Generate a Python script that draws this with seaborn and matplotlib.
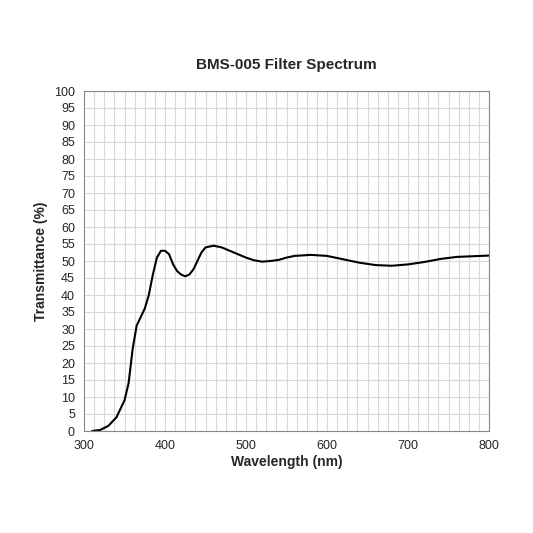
import numpy as np
import pandas as pd
import matplotlib
matplotlib.use('Agg')
import matplotlib.pyplot as plt
import seaborn as sns
from matplotlib.ticker import MultipleLocator

wavelength = [310, 320, 330, 340, 350, 355, 360, 365, 370, 375, 380, 385, 390, 395,
              400, 405, 410, 415, 420, 425, 430, 435, 440, 445, 450, 460, 470, 480,
              490, 500, 510, 520, 530, 540, 550, 560, 580, 600, 620, 640, 660, 680,
              700, 720, 740, 760, 780, 800]
transmittance = [0.0, 0.3, 1.5, 4.0, 9.0, 14.0, 24.0, 31.0, 33.5, 36.0, 40.0, 46.0, 51.0, 53.0,
                 53.0, 52.0, 49.0, 47.0, 46.0, 45.5, 46.0, 47.5, 50.0, 52.5, 54.0, 54.5, 54.0, 53.0,
                 52.0, 51.0, 50.2, 49.8, 50.0, 50.3, 51.0, 51.5, 51.8, 51.5, 50.5, 49.5, 48.8, 48.6,
                 49.0, 49.7, 50.6, 51.2, 51.4, 51.6]

df = pd.DataFrame({'wl': wavelength, 't': transmittance})

sns.set_style('white')
plt.rcParams['font.family'] = ['Liberation Sans', 'DejaVu Sans']

fig = plt.figure(figsize=(5.33, 5.33), dpi=100)
ax = fig.add_axes([84/533, 1 - 431/533, 405/533, 340/533])
sns.lineplot(data=df, x='wl', y='t', color='black', linewidth=1.5, ax=ax)

ax.set_xlim(300, 800)
ax.set_ylim(0, 100)
ax.xaxis.set_major_locator(MultipleLocator(100))
ax.xaxis.set_minor_locator(MultipleLocator(12.5))
ax.yaxis.set_major_locator(MultipleLocator(5))
ax.grid(which='both', color='#d9d9d9', linewidth=0.8)
ax.set_axisbelow(True)
for s in ax.spines.values():
    s.set_color('#888888')
ax.tick_params(which='minor', length=0)
ax.tick_params(which='major', length=3, labelsize=9, color='#888888')
ax.set_xlabel('Wavelength (nm)', fontsize=10, fontweight='bold', labelpad=2)
ax.set_ylabel('Transmittance (%)', fontsize=10, fontweight='bold')
ax.set_title('BMS-005 Filter Spectrum', fontsize=11, fontweight='bold', pad=16)

fig.savefig('out.png', dpi=100)
